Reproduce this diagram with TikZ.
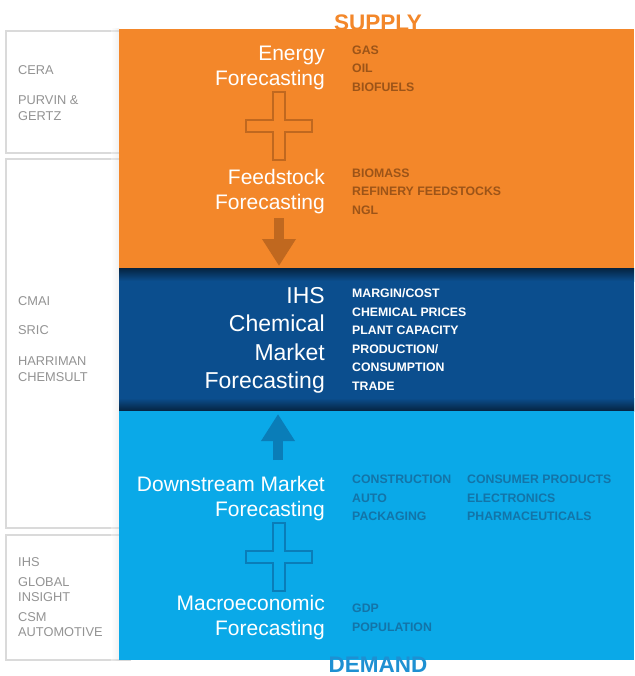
\documentclass[tikz,border=0pt]{standalone}
\usepackage{fontspec}
\setmainfont{Liberation Sans}
\usepackage{tikz}
\usetikzlibrary{arrows.meta,positioning,calc}
\definecolor{orangeoffre}{HTML}{F3872A}
\definecolor{orangefonce}{HTML}{C0681F}
\definecolor{orangetexte}{HTML}{9C5418}
\definecolor{bleufonce}{HTML}{0B4E8E}
\definecolor{bleuclair}{HTML}{0AA9E8}
\definecolor{bleuarrow}{HTML}{0A7DB8}
\definecolor{bleutexte}{HTML}{1374A8}
\definecolor{bleudemande}{HTML}{1E90D2}
\definecolor{grissource}{HTML}{939393}
\definecolor{griscadre}{HTML}{DADADA}

\begin{document}
\begin{tikzpicture}[x=1pt,y=-1pt]
\tikzstyle{cadre}=[draw=griscadre,line width=1.2pt]
\tikzstyle{titre}=[anchor=east,align=right,text=white,inner sep=0pt,font=\fontsize{21}{25}\selectfont]
\tikzstyle{grandtitre}=[titre,font=\fontsize{23}{28.3}\selectfont]
\tikzstyle{liste}=[anchor=west,align=left,inner sep=0pt,font=\fontsize{12.3}{18.6}\selectfont\bfseries]
\tikzstyle{source}=[anchor=west,align=left,inner sep=0pt,text=grissource,font=\fontsize{12.8}{15.5}\selectfont]
\tikzstyle{croix}=[line width=2.5pt]
\tikzstyle{fleche}=[line width=10pt,-{Triangle[length=27pt,width=32pt]}]
\def\ColTitres{325}
\def\ColListes{352}
\def\ColSources{18}
\def\Gauche{119}
\def\Droite{634}
\def\croix#1#2#3{\draw[croix,draw=#3] (#1,#2) ++(-6,-34) -- ++(12,0) -- ++(0,28) -- ++(27,0) -- ++(0,12) -- ++(-27,0) -- ++(0,28) -- ++(-12,0) -- ++(0,-28) -- ++(-27,0) -- ++(0,-12) -- ++(27,0) -- cycle;}
\useasboundingbox (0,0) rectangle (634,676);
\fill[white] (0,0) rectangle (634,676);
% sources
\draw[cadre] (6,31) rectangle (130,153);
\draw[cadre] (6,159) rectangle (130,528);
\draw[cadre] (6,535) rectangle (130,660);
\shade[left color=white,right color=gray!30,opacity=0.35] (\Gauche-8,29) rectangle (\Gauche,660);
\node[anchor=base,inner sep=0pt,text=orangeoffre,font=\fontsize{22.5}{25}\selectfont\bfseries] (offre) at (378,31) {SUPPLY};
% bandes
\fill[orangeoffre] (\Gauche,29) rectangle (\Droite,268);
\fill[bleufonce] (\Gauche,268) rectangle (\Droite,411);
\shade[top color=black!55!bleufonce,bottom color=bleufonce] (\Gauche,268) rectangle (\Droite,281);
\shade[top color=bleufonce,bottom color=black!55!bleufonce] (\Gauche,398) rectangle (\Droite,411);
\fill[bleuclair] (\Gauche,411) rectangle (\Droite,660);
\node[anchor=base,inner sep=0pt,text=bleudemande,font=\fontsize{22.5}{25}\selectfont\bfseries] (demande) at (378,672.5) {DEMAND};
% titres
\node[titre] (energie) at (\ColTitres,68) {Energy\\Forecasting};
\node[titre] (charge) at (\ColTitres,192) {Feedstock\\Forecasting};
\node[grandtitre] (chimie) at (\ColTitres,340.5) {IHS\\Chemical\\Market\\Forecasting};
\node[titre] (aval) at (\ColTitres,498.5) {Downstream Market\\Forecasting};
\node[titre] (macro) at (\ColTitres,617.5) {Macroeconomic\\Forecasting};
% croix et fleches
\croix{279}{126}{orangefonce}
\croix{279}{557}{bleuarrow}
\coordinate (departA) at (279,218);
\coordinate (pointeA) at (279,266);
\draw[fleche,draw=orangefonce,fill=orangefonce] (departA) -- (pointeA);
\coordinate (departB) at (278,460);
\coordinate (pointeB) at (278,414);
\draw[fleche,draw=bleuarrow,fill=bleuarrow] (departB) -- (pointeB);
% listes
\node[liste,text=orangetexte] (gaz) at (\ColListes,68.5) {GAS\\OIL\\BIOFUELS};
\node[liste,text=orangetexte] (biomasse) at (\ColListes,191.5) {BIOMASS\\REFINERY FEEDSTOCKS\\NGL};
\node[liste,text=white] (marge) at (\ColListes,339.5) {MARGIN/COST\\CHEMICAL PRICES\\PLANT CAPACITY\\PRODUCTION/\\CONSUMPTION\\TRADE};
\node[liste,text=bleutexte] (construction) at (\ColListes,498) {CONSTRUCTION\\AUTO\\PACKAGING};
\node[liste,text=bleutexte] (conso) at (467,498) {CONSUMER PRODUCTS\\ELECTRONICS\\PHARMACEUTICALS};
\node[liste,text=bleutexte] (pib) at (\ColListes,617.5) {GDP\\POPULATION};
% fournisseurs
\node[source] (cera) at (\ColSources,70) {CERA};
\node[source] (purvin) at (\ColSources,108) {PURVIN \&\\GERTZ};
\node[source] (cmai) at (\ColSources,301) {CMAI};
\node[source] (sric) at (\ColSources,330) {SRIC};
\node[source] (harriman) at (\ColSources,369) {HARRIMAN\\CHEMSULT};
\node[source] (ihs) at (\ColSources,562) {IHS};
\node[source] (global) at (\ColSources,589.5) {GLOBAL\\INSIGHT};
\node[source] (csm) at (\ColSources,624.5) {CSM\\AUTOMOTIVE};
\end{tikzpicture}
\end{document}
